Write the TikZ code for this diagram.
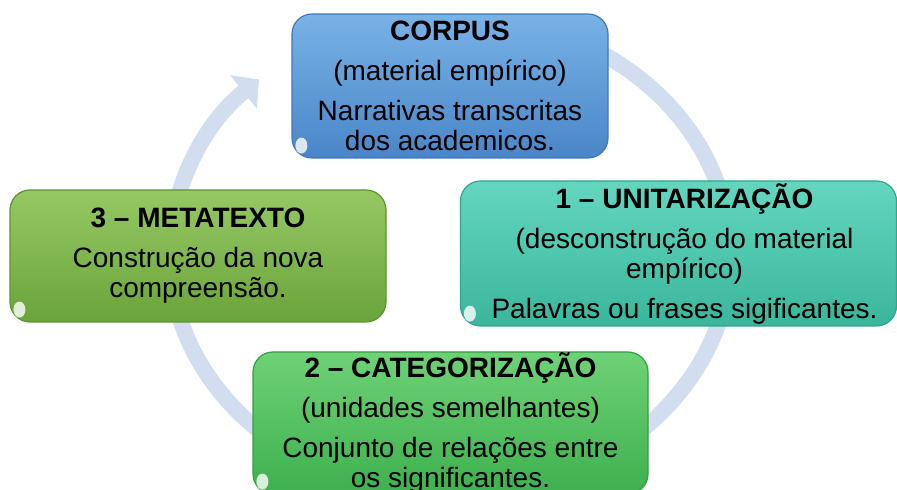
\documentclass[tikz,border=0pt]{standalone}
\usepackage{fontspec}
\setmainfont{Liberation Sans}
\usetikzlibrary{arrows.meta}
\definecolor{cyc}{RGB}{210,222,240}
\definecolor{corpT}{RGB}{120,178,230}
\definecolor{corpM}{RGB}{88,152,214}
\definecolor{corpB}{RGB}{74,134,200}
\definecolor{corpD}{RGB}{66,120,186}
\definecolor{uniT}{RGB}{100,214,192}
\definecolor{uniM}{RGB}{70,198,172}
\definecolor{uniB}{RGB}{58,182,156}
\definecolor{uniD}{RGB}{50,165,140}
\definecolor{catT}{RGB}{110,210,118}
\definecolor{catM}{RGB}{76,192,92}
\definecolor{catB}{RGB}{62,176,78}
\definecolor{catD}{RGB}{52,158,66}
\definecolor{metT}{RGB}{150,200,100}
\definecolor{metM}{RGB}{122,180,72}
\definecolor{metB}{RGB}{106,164,58}
\definecolor{metD}{RGB}{92,148,48}
\tikzset{
  box/.style={rounded corners=20pt, line width=1.2pt, align=center, inner sep=0pt,
    font=\fontsize{28pt}{30pt}\selectfont, text=black},
  cycarrow/.style={line width=16pt, draw=cyc, -{Triangle[width=42pt,length=20pt]}},
  gloss/.style={white, opacity=0.8}
}
\begin{document}
\begin{tikzpicture}[x=1pt,y=1pt]
\useasboundingbox (0,0) rectangle (897,490);
\clip (0,0) rectangle (897,490);
\coordinate (ctr) at (450,235);
\draw[cycarrow] ([shift={(57:280 and 240)}]ctr) arc[start angle=57,end angle=-227,x radius=280,y radius=240];

\node[box, top color=corpT, middle color=corpM, bottom color=corpB, draw=corpD,
      minimum width=316pt, minimum height=144pt] (corpus) at (450,404)
  {\textbf{CORPUS}\\[10pt](material empírico)\\[10pt]Narrativas transcritas\\dos academicos.};
\node[box, top color=uniT, middle color=uniM, bottom color=uniB, draw=uniD,
      minimum width=436pt, minimum height=145pt] (unit) at (678.5,236.5)
  {\hspace*{12pt}\textbf{1 – UNITARIZAÇÃO}\\[10pt]\hspace*{12pt}(desconstrução do material\\\hspace*{12pt}empírico)\\[10pt]\hspace*{12pt}Palavras ou frases sigificantes.};
\node[box, top color=metT, middle color=metM, bottom color=metB, draw=metD,
      minimum width=376pt, minimum height=132pt] (meta) at (198,234)
  {\textbf{3 – METATEXTO}\\[10pt]Construção da nova\\compreensão.};
\node[box, top color=catT, middle color=catM, bottom color=catB, draw=catD,
      minimum width=395pt, minimum height=142pt] (cat) at (450.5,67)
  {\textbf{2 – CATEGORIZAÇÃO}\\[10pt](unidades semelhantes)\\[10pt]Conjunto de relações entre\\os significantes.};

\foreach \n in {corpus,unit,meta,cat}
  \fill[gloss] ([shift={(10pt,13pt)}]\n.south west) ellipse [x radius=6pt, y radius=8pt];
\end{tikzpicture}
\end{document}
